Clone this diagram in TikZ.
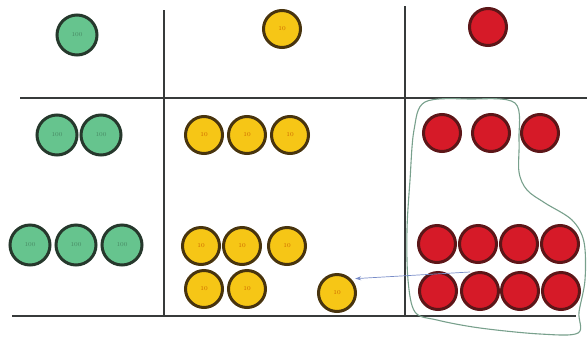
\documentclass[tikz,border=0pt]{standalone}
\usepackage{xcolor}
\usetikzlibrary{arrows.meta, positioning, calc}

\definecolor{gridgray}{RGB}{55,58,58}
\definecolor{hgreen}{RGB}{102,196,142}
\definecolor{hgreendark}{RGB}{38,56,44}
\definecolor{tyellow}{RGB}{246,198,22}
\definecolor{tyellowdark}{RGB}{72,52,14}
\definecolor{ored}{RGB}{214,26,40}
\definecolor{oreddark}{RGB}{92,22,24}
\definecolor{loopgreen}{RGB}{120,160,140}
\definecolor{arrowblue}{RGB}{120,140,200}

\begin{document}
\begin{tikzpicture}[x=1pt, y=-1pt, >={Stealth[length=6pt,width=4pt]},
	coin/.style={circle, line width=3pt, inner sep=0pt, font=\fontsize{6}{6}\selectfont},
	hundred/.style={coin, draw=hgreendark, fill=hgreen, minimum size=40pt, text=hgreen!70!black},
	ten/.style={coin, draw=tyellowdark, fill=tyellow, minimum size=37pt, text=orange!80!black},
	one/.style={coin, draw=oreddark, fill=ored, minimum size=37pt},
	rule/.style={draw=gridgray, line width=2.8pt}]
	\useasboundingbox (0,0) rectangle (587,341);
	% place value table
	\draw[rule] (164,10) -- (164,316);
	\draw[rule] (405,6) -- (405,316);
	\draw[rule] (20,98) -- (587,98);
	\draw[rule] (12,316) -- (576,316);
	% header coins
	\node[hundred] (h0) at (77,35) {100};
	\node[ten] (t0) at (282,29) {10};
	\node[one] (o0) at (488,27) {};
	% first number
	\foreach \x [count=\i] in {57,101}
		\node[hundred] (h1-\i) at (\x,135) {100};
	\foreach \x [count=\i] in {204,247,290}
		\node[ten] (t1-\i) at (\x,135) {10};
	\foreach \x [count=\i] in {442,491,540}
		\node[one] (o1-\i) at (\x,133) {};
	% second number
	\foreach \x [count=\i] in {30,76,122}
		\node[hundred] (h2-\i) at (\x,245) {100};
	\foreach \x [count=\i] in {201,242,287}
		\node[ten] (t2-\i) at (\x,246) {10};
	\foreach \x [count=\i] in {204,247}
		\node[ten] (t3-\i) at (\x,289) {10};
	\node[ten] (lone) at (337,293) {10};
	\foreach \x [count=\i] in {437,478,519,560}
		\node[one] (o2-\i) at (\x,244) {};
	\foreach \x [count=\i] in {438,480,520,561}
		\node[one] (o3-\i) at (\x,291) {};
	% hand drawn loop round the ones
	\draw[loopgreen, line width=1.1pt] plot[smooth cycle, tension=0.55] coordinates {
		(425,102) (470,99) (515,103) (519,140) (519,172) (527,190) (545,203)
		(572,220) (584,242) (585,280) (579,312) (578,333) (540,334) (480,328)
		(437,320) (415,312) (408,280) (407,230) (410,180) (414,130)};
	% exchange arrow
	\coordinate (swap) at (470,272);
	\draw[->, arrowblue, line width=0.7pt, shorten >=4pt] (swap) -- (lone.45);
\end{tikzpicture}
\end{document}
